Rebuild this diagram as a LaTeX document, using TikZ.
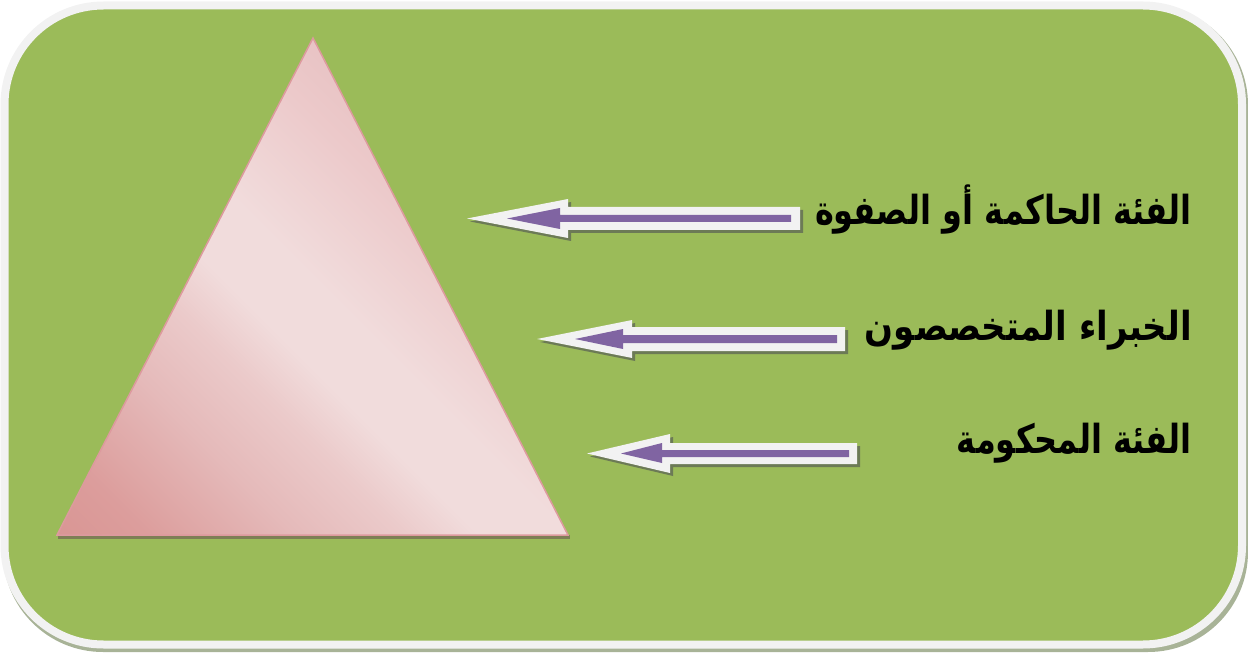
\documentclass[tikz,border=0pt]{standalone}
\usepackage{fontspec}
\newfontfamily\arabicfont[Script=Arabic]{DejaVu Sans}
\TeXXeTstate=1
\definecolor{boxgreen}{HTML}{9BBB59}
\definecolor{ringwhite}{HTML}{F2F2F2}
\definecolor{boxshadow}{HTML}{A8B397}
\definecolor{pinkdark}{HTML}{D99694}
\definecolor{pinkdark2}{HTML}{DC9D9C}
\definecolor{pinkmid}{HTML}{E5BABA}
\definecolor{pinkmid2}{HTML}{EBCACA}
\definecolor{pinklight}{HTML}{F1DCDC}
\definecolor{pinkhigh}{HTML}{ECC9CA}
\definecolor{pinktop}{HTML}{E8C3C4}
\definecolor{pinkedge}{HTML}{DD9A9E}
\definecolor{triangleshadow}{HTML}{7E7E55}
\definecolor{arrowpurple}{HTML}{8064A2}
\definecolor{arrowshadow}{HTML}{6C7A56}
\pgfdeclarehorizontalshading{trishade}{100bp}{color(0bp)=(pinkdark); color(25bp)=(pinkdark); color(31bp)=(pinkdark2); color(41bp)=(pinkmid); color(48bp)=(pinkmid2); color(53bp)=(pinklight); color(59bp)=(pinklight); color(70bp)=(pinkhigh); color(75bp)=(pinktop); color(100bp)=(pinktop)}
\tikzset{
  outerarrow/.style={fill=ringwhite},
  innerarrow/.style={fill=arrowpurple},
  shadowarrow/.style={fill=arrowshadow},
  label/.style={anchor=east, inner sep=0pt, font=\arabicfont\bfseries\fontsize{32}{38}\selectfont, text=black}
}
\begin{document}
\begin{tikzpicture}[x=1pt,y=-1pt]
\useasboundingbox (0,0) rectangle (1248,655);
% frame
\fill[boxshadow, rounded corners=100pt] (3,5) rectangle (1248,652);
\filldraw[fill=boxgreen, draw=ringwhite, line width=8pt, rounded corners=99pt] (4.5,5.5) rectangle (1242,644.5);
% triangle
\fill[triangleshadow] (58,535) rectangle (570,538.5);
\begin{scope}
  \clip (313,38) -- (568,535) -- (57,535) -- cycle;
  \begin{scope}[transform canvas={rotate around={45:(57,535)}}]
    \shade[shading=trishade] (57,300) rectangle (590,1000);
  \end{scope}
\end{scope}
\draw[pinkedge, line width=1.5pt, line join=miter] (313,38) -- (568,535) -- (57,535) -- cycle;
% arrow 1
\fill[shadowarrow, shift={(3,3)}] (467,218.5) -- (568,199) -- (568,207) -- (800,207) -- (800,230) -- (568,230) -- (568,238) -- cycle;
\fill[outerarrow] (467,218.5) -- (568,199) -- (568,207) -- (800,207) -- (800,230) -- (568,230) -- (568,238) -- cycle;
\fill[innerarrow] (507,218.5) -- (560,208) -- (560,215) -- (791,215) -- (791,222) -- (560,222) -- (560,229) -- cycle;
% arrow 2
\fill[shadowarrow, shift={(3,3)}] (537,339) -- (632,320) -- (632,327) -- (845,327) -- (845,351) -- (632,351) -- (632,358) -- cycle;
\fill[outerarrow] (537,339) -- (632,320) -- (632,327) -- (845,327) -- (845,351) -- (632,351) -- (632,358) -- cycle;
\fill[innerarrow] (575,339) -- (623,329) -- (623,335) -- (837,335) -- (837,343) -- (623,343) -- (623,349) -- cycle;
% arrow 3
\fill[shadowarrow, shift={(3,3)}] (587,453.5) -- (670,434) -- (670,443) -- (857,443) -- (857,464) -- (670,464) -- (670,473) -- cycle;
\fill[outerarrow] (587,453.5) -- (670,434) -- (670,443) -- (857,443) -- (857,464) -- (670,464) -- (670,473) -- cycle;
\fill[innerarrow] (621,453.5) -- (662,443) -- (662,450) -- (849,450) -- (849,457) -- (662,457) -- (662,463) -- cycle;
% labels
\node[label] (elite) at (1192,210) {\scalebox{1}[1.25]{\beginR الفئة الحاكمة أو الصفوة\endR}};
\node[label] (experts) at (1192,330) {\scalebox{1.06}[1.25]{\beginR الخبراء المتخصصون\endR}};
\node[label] (ruled) at (1192,443) {\scalebox{1}[1.25]{\beginR الفئة المحكومة\endR}};
\end{tikzpicture}
\end{document}
